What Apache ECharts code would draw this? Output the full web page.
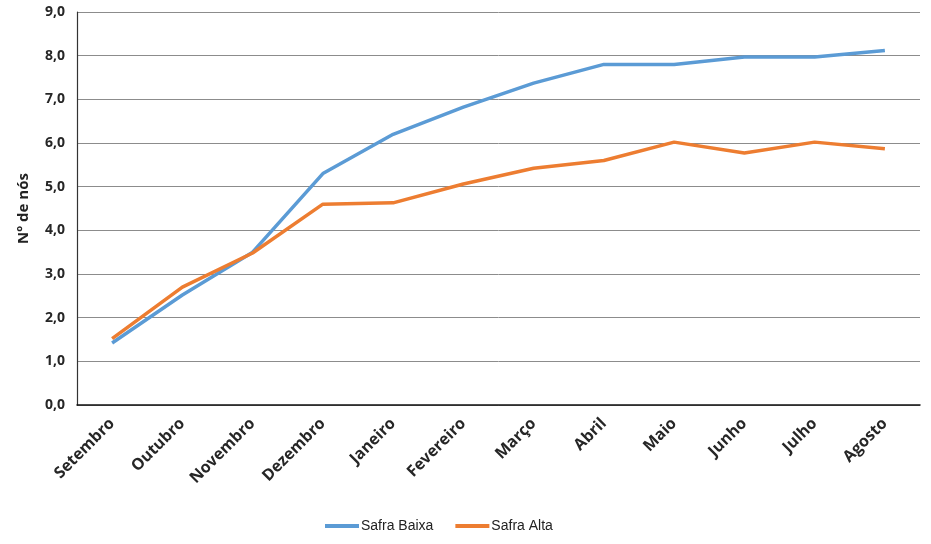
<!DOCTYPE html>
<html>
<head>
<meta charset="utf-8">
<script src="https://cdn.jsdelivr.net/npm/echarts@6/dist/echarts.min.js"></script>
<style>
  html, body { margin: 0; padding: 0; background: #fff; }
  #chart { width: 931px; height: 544px; }
</style>
</head>
<body>
<div id="chart"></div>
<script>
const months = ["Setembro", "Outubro", "Novembro", "Dezembro", "Janeiro", "Fevereiro",
  "Março", "Abril", "Maio", "Junho", "Julho", "Agosto"];
const safraBaixa = [1.42, 2.52, 3.5, 5.3, 6.2, 6.82, 7.37, 7.8, 7.8, 7.97, 7.97, 8.12];
const safraAlta = [1.52, 2.7, 3.48, 4.6, 4.63, 5.06, 5.42, 5.6, 6.02, 5.77, 6.02, 5.87];

const chart = echarts.init(document.getElementById("chart"));
const font = "Open Sans, Liberation Sans, sans-serif";

chart.setOption({
  animation: false,
  textStyle: { fontFamily: font },
  grid: { left: 77, right: 11, top: 12, bottom: 139 },
  legend: {
    bottom: 6,
    left: 320,
    itemWidth: 34,
    itemGap: 22,
    icon: "rect",
    itemHeight: 4,
    textStyle: { fontSize: 14, color: "#222", fontFamily: "Liberation Sans, sans-serif", padding: [0, 0, 0, -3] },
    data: ["Safra Baixa", "Safra Alta"]
  },
  xAxis: {
    type: "category",
    data: months,
    boundaryGap: true,
    axisLine: { lineStyle: { color: "#111", width: 1.5 } },
    axisTick: { show: false },
    axisLabel: {
      rotate: 45,
      interval: 0,
      fontWeight: "bold",
      fontSize: 16,
      color: "#262626",
      margin: 16
    }
  },
  yAxis: {
    type: "value",
    min: 0,
    max: 9,
    interval: 1,
    name: "Nº de nós",
    nameLocation: "middle",
    nameGap: 46,
    nameTextStyle: { fontWeight: "bold", fontSize: 15, color: "#222", padding: [0, 0, 0, 0] },
    axisLine: { show: true, lineStyle: { color: "#333", width: 1.2 } },
    axisTick: { show: false },
    axisLabel: {
      fontWeight: "bold",
      fontSize: 14,
      color: "#262626",
      margin: 12,
      formatter: v => v.toFixed(1).replace(".", ",")
    },
    splitLine: { lineStyle: { color: "#8c8c8c", width: 1 } }
  },
  series: [
    {
      name: "Safra Baixa",
      type: "line",
      data: safraBaixa,
      symbol: "none",
      lineStyle: { color: "#5B9BD5", width: 3.5 },
      itemStyle: { color: "#5B9BD5" }
    },
    {
      name: "Safra Alta",
      type: "line",
      data: safraAlta,
      symbol: "none",
      lineStyle: { color: "#ED7D31", width: 3.5 },
      itemStyle: { color: "#ED7D31" }
    }
  ]
});
</script>
</body>
</html>
